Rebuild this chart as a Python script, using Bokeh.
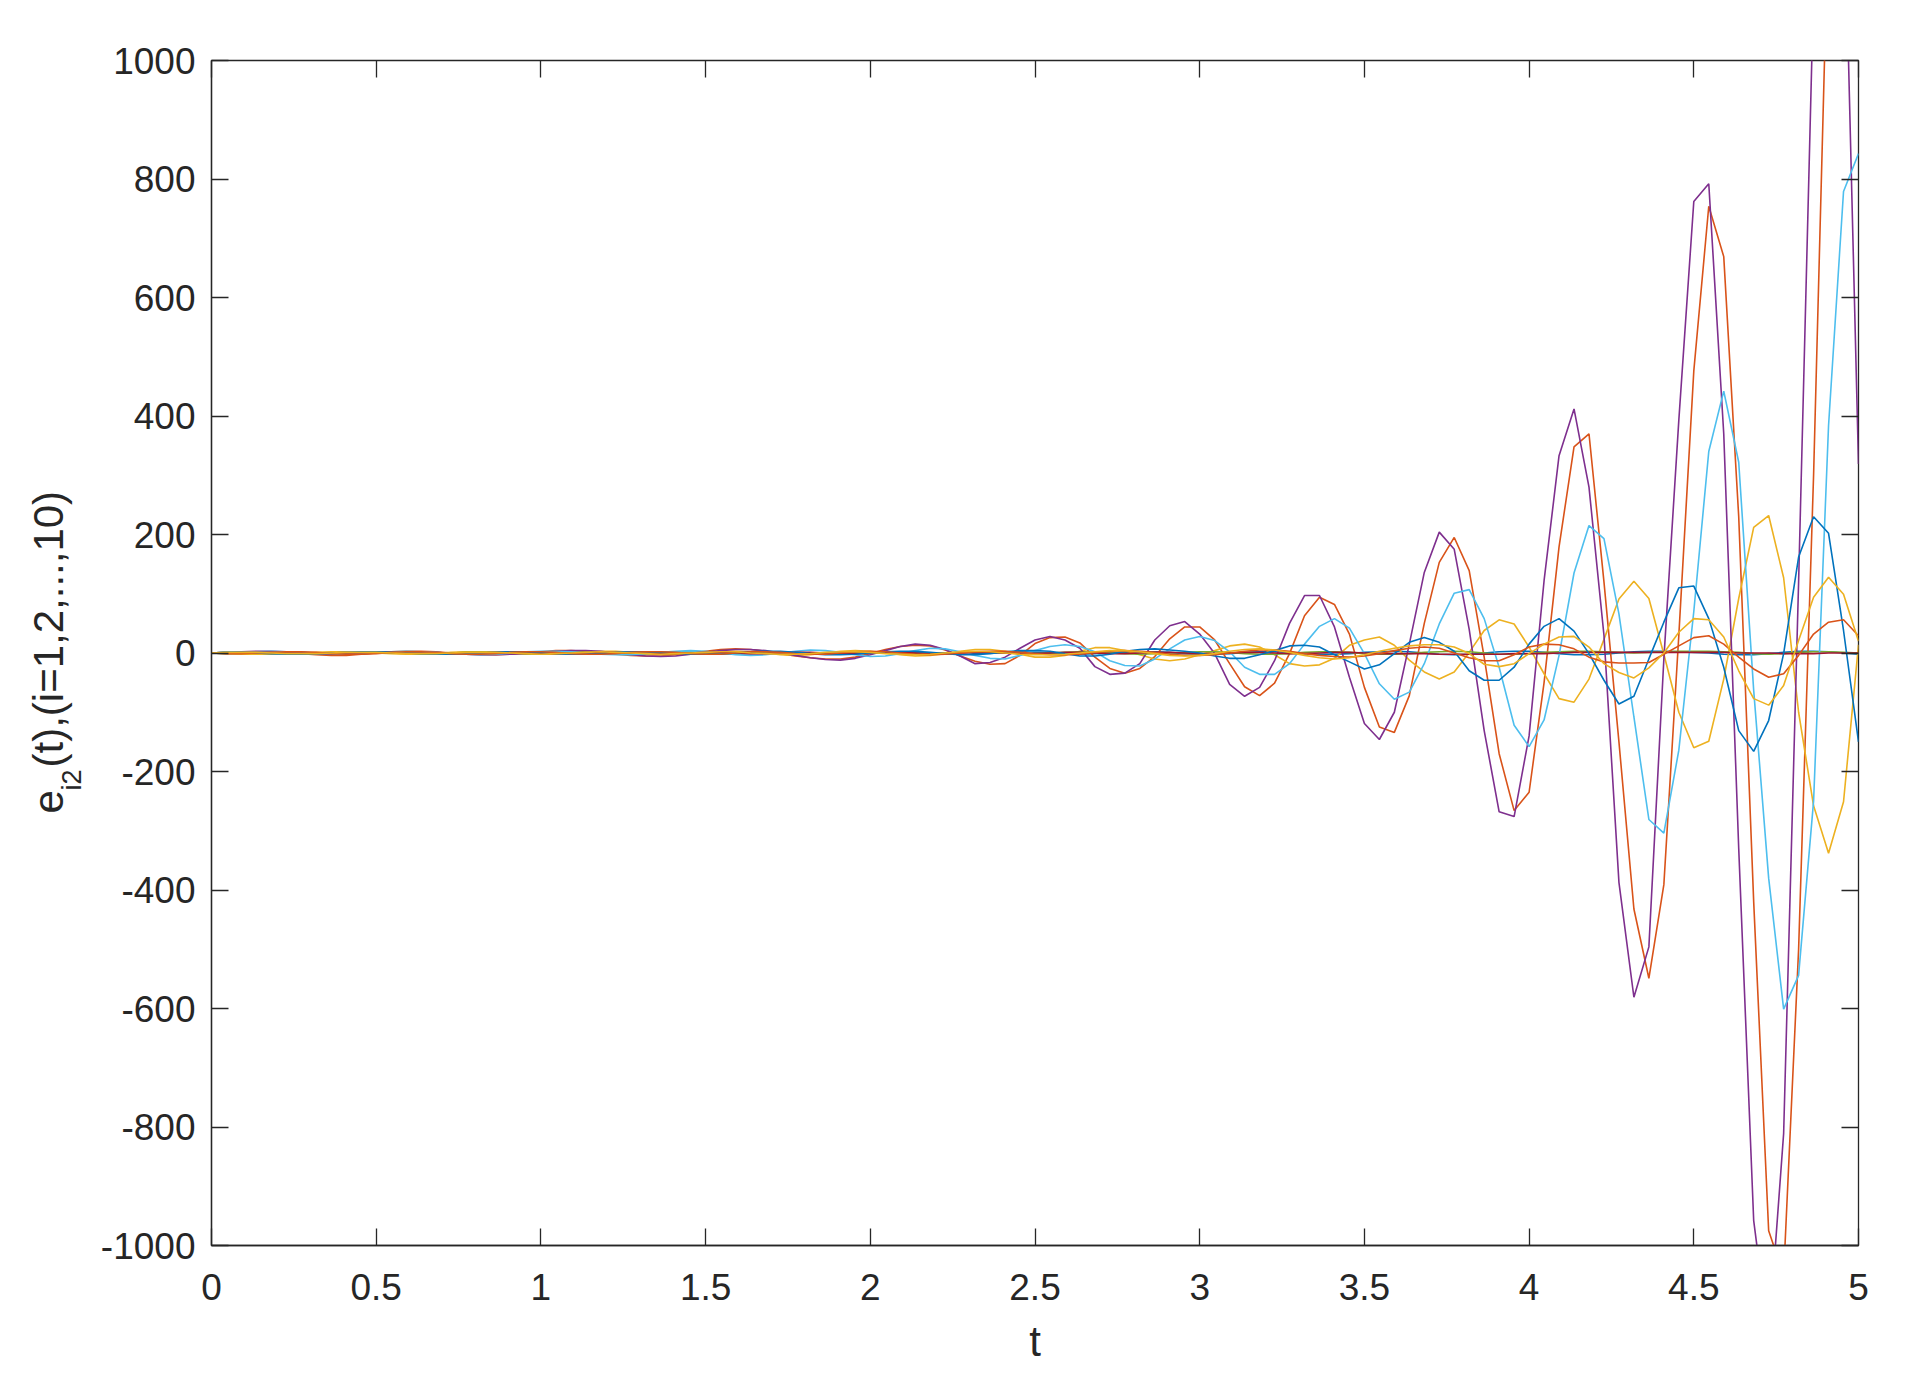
import math
from bokeh.plotting import figure
from bokeh.layouts import row
from bokeh.models import Range1d, FixedTicker, LinearAxis
from bokeh.core.properties import value
from bokeh.embed import file_html
from bokeh.resources import INLINE

# ---------------- data ----------------
t = [k * 5 / 110 for k in range(111)]

e1 = [0, -1, -1, 0, 1, 1, 1, 0, -1, -1,
      0, 1, 1, 0, -1, -1, -1, 0, 1, 1,
      1, 0, -1, -1, 0, 1, 1, 0, -1, -1,
      0, 1, 1, 1, 0, -1, -1, 0, 1, 1,
      0, -1, -1, -1, 0, 1, 2, 1, 0, -1,
      -2, -1, 0, 1, 2, 1, 0, -1, -2, -1,
      0, 1, 2, 2, 1, -1, -2, -2, -1, 1,
      2, 2, 1, -1, -2, -2, -1, 1, 2, 3,
      2, 0, -2, -3, -2, 0, 2, 3, 3, 1,
      -1, -3, -3, -2, 0, 2, 3, 3, 2, 1,
      0, -2, -3, -3, -1, 1, 3, 3, 2, 0, -2]

e2 = [0, 1, 2, 2, 2, 1, -1, -3, -4, -4,
      -2, 0, 2, 3, 3, 2, 0, -2, -3, -3,
      -2, 0, 2, 4, 4, 3, 1, -2, -4, -5,
      -5, -3, 0, 3, 6, 7, 6, 3, -1, -5,
      -8, -10, -10, -7, -1, 6, 11, 13, 12, 5,
      -5, -14, -19, -18, -4, 16, 26, 27, 17, -7,
      -26, -34, -26, -6, 24, 44, 44, 22, -18, -57,
      -72, -51, -1, 63, 94, 82, 32, -58, -125, -134,
      -72, 50, 153, 195, 139, -7, -170, -266, -235, -50,
      179, 348, 370, 120, -150, -432, -549, -391, 30, 476,
      754, 669, 230, -420, -975, -1050, -500, 300, 1260, 1800, 1600]

e3 = [0, -1, -2, -2, -2, -1, 0, 1, 2, 2,
      1, 0, -1, -2, -2, -1, 1, 2, 2, 1,
      0, -2, -2, -2, 0, 2, 3, 3, 1, -1,
      -3, -3, -2, 1, 3, 3, 2, 0, -3, -4,
      -3, 0, 3, 4, 3, 0, -3, -5, -4, -1,
      3, 6, 6, 3, -2, -7, -7, -4, 3, 9,
      9, 4, -3, -10, -13, -10, -3, 4, 12, 15,
      10, -3, -18, -22, -20, -9, 13, 22, 27, 13,
      -12, -32, -44, -32, 1, 38, 56, 49, 10, -35,
      -77, -83, -44, 23, 91, 121, 92, -2, -100, -160,
      -149, -44, 92, 212, 232, 127, -100, -258, -338, -251, 14]

e4 = [0, 1, 2, 3, 3, 2, 0, -1, -2, -2,
      -1, 0, 1, 2, 2, 1, -1, -2, -3, -3,
      -2, -1, 1, 3, 4, 4, 3, 0, -3, -5,
      -6, -5, -2, 1, 4, 6, 6, 4, 0, -4,
      -8, -11, -12, -9, -3, 4, 11, 15, 13, 6,
      -5, -18, -16, -7, 8, 22, 28, 22, 8, -23,
      -36, -34, -18, 22, 46, 53, 32, -1, -53, -73,
      -58, -13, 50, 97, 97, 44, -41, -119, -146, -100,
      15, 136, 204, 175, 40, -131, -268, -276, -140, 122,
      333, 412, 280, 30, -387, -581, -496, -10, 393, 762,
      792, 370, -330, -958, -1155, -811, 120, 1120, 1500, 1340, 319]

e5 = [0, 1, 1, 1, 0, 0, -1, -1, 0, 0,
      1, 1, 0, 0, -1, -1, 0, 1, 1, 1,
      0, -1, -1, 0, 1, 1, 1, 0, -1, -1,
      0, 1, 1, 0, -1, -1, 0, 1, 1, 0,
      -1, -1, 0, 1, 1, 1, 0, -1, -1, 0,
      1, 2, 1, 0, -1, -1, 0, 1, 2, 1,
      0, -1, -2, -1, 0, 1, 2, 2, 1, -1,
      -2, -2, -1, 1, 2, 2, 1, -1, -2, -2,
      -1, 1, 2, 3, 2, 0, -2, -2, -1, 1,
      2, 3, 3, 2, 1, 0, 1, 2, 3, 3,
      3, 2, 1, -1, -2, -1, 1, 2, 2, 1, 0]

e6 = [0, 1, 2, 2, 3, 2, 1, -1, -2, -2,
      -1, 0, 2, 3, 2, 1, -1, -2, -3, -2,
      0, 2, 3, 3, 2, 0, -2, -3, -3, -1,
      1, 3, 4, 3, 0, -3, -4, -3, 0, 3,
      5, 4, 1, -3, -6, -5, -1, 4, 8, 7,
      2, -4, -9, -10, -4, 4, 11, 14, 11, 2,
      -13, -21, -22, -10, 7, 22, 28, 21, 2, -24,
      -36, -36, -18, 15, 45, 58, 42, -1, -52, -78,
      -66, -18, 49, 101, 107, 58, -24, -122, -158, -113,
      -4, 135, 215, 193, 66, -108, -281, -304, -164, 70,
      340, 442, 322, -63, -380, -601, -544, -250, 384, 779, 843]

e7 = [0, 0, 1, 1, 1, 0, 0, -1, -1, 0,
      0, 1, 1, 0, 0, -1, -1, 0, 0, 1,
      1, 0, 0, -1, -1, 0, 1, 1, 0, 0,
      -1, -1, 0, 1, 1, 0, -1, -1, 0, 1,
      1, 0, -1, -1, 0, 1, 1, 0, -1, -1,
      0, 1, 1, 0, -1, -1, 0, 1, 1, 0,
      -1, -1, 0, 1, 1, 0, -1, -1, 0, 1,
      1, 0, -1, -1, 0, 1, 1, 0, -1, -1,
      -1, -1, -2, -2, -2, -2, -2, -1, -1, -1,
      0, 1, 1, 1, 1, 1, 1, 1, 1, 1,
      1, 1, 0, 0, 0, -1, -1, -1, 0, 0, 0]

e8 = [0, 1, 1, 0, -1, -2, -2, -1, 0, 1,
      2, 2, 1, 0, -1, -2, -2, -1, 0, 1,
      2, 2, 1, -1, -2, -2, -1, 1, 2, 2,
      1, 0, -2, -2, -2, 0, 2, 3, 3, 1,
      -1, -3, -3, -2, 0, 2, 3, 3, 1, -1,
      -3, -3, -1, 2, 4, 4, 3, -1, -5, -5,
      -2, 3, 6, 7, 5, 3, 0, -5, -9, -9,
      -3, 4, 12, 13, 10, -3, -15, -27, -20, -1,
      18, 26, 18, 3, -30, -46, -46, -24, 15, 45,
      58, 37, -1, -46, -86, -73, -10, 52, 110, 113,
      58, -24, -131, -166, -114, -1, 162, 230, 202, 38, -150]

e9 = [0, -1, -1, 0, 1, 2, 2, 1, -1, -2,
      -2, -1, 1, 2, 2, 1, -1, -2, -2, -1,
      1, 2, 2, 1, -1, -2, -2, -1, 1, 2,
      2, 1, -1, -2, -2, 0, 2, 2, 1, -1,
      -2, -2, 0, 2, 3, 2, 0, -2, -3, -2,
      0, 2, 3, 3, 1, -1, -3, -3, -2, 1,
      3, 4, 3, 1, -2, -4, -4, -3, 0, 3,
      5, 5, 3, -1, -4, -6, -7, -5, -1, 4,
      8, 10, 8, 0, -8, -13, -13, -3, 10, 15,
      14, 7, -7, -15, -17, -17, -16, -2, 12, 26,
      29, 15, -7, -27, -41, -35, -4, 32, 52, 56, 29]

e10 = [0, 1, 1, 1, 0, -1, -1, -1, 0, 1,
       1, 1, 0, -1, -1, -1, 0, 1, 1, 1,
       0, -1, -2, -1, 0, 1, 2, 1, 0, -1,
       -2, -1, 0, 1, 2, 2, 0, -1, -2, -2,
       -1, 1, 2, 2, 1, -1, -2, -3, -2, 0,
       2, 3, 2, 0, -2, -3, -3, -2, 0, 2,
       4, 4, 2, -1, -4, -5, -4, -1, 3, 6,
       7, 5, 1, -4, -8, -10, -8, -3, 3, 8,
       12, 14, 14, 10, -1, -19, -23, -18, -1, 15,
       27, 28, 10, -18, -33, -42, -25, 0, 35, 58,
       56, 27, -30, -77, -88, -55, 21, 94, 128, 99, 20]

series = [e1, e2, e3, e4, e5, e6, e7, e8, e9, e10]
colors = ["#0072BD", "#D95319", "#EDB120", "#7E2F8E", "#77AC30",
          "#4DBEEE", "#A2142F", "#0072BD", "#D95319", "#EDB120"]

x_ticks = [0, 0.5, 1, 1.5, 2, 2.5, 3, 3.5, 4, 4.5, 5]
x_tick_labels = ["0", "0.5", "1", "1.5", "2", "2.5", "3", "3.5", "4", "4.5", "5"]
y_ticks = [-1000, -800, -600, -400, -200, 0, 200, 400, 600, 800, 1000]
y_tick_labels = ["-1000", "-800", "-600", "-400", "-200", "0", "200", "400", "600", "800", "1000"]

ylabel_parts = ["e", "i2", "(t),(i=1,2,...,10)"]

# ---------------- layout constants (page pixels) ----------------
FRAME_L, FRAME_R, FRAME_T, FRAME_B = 211, 1858, 60, 1245
BORDER_R, BORDER_B = 39, 125
LEFT_W = 94                       # width of the strip that carries the y label
TOTAL_H = FRAME_B + BORDER_B
FONT = "Liberation Sans"
AX = "#262626"
TICK_FS, LABEL_FS, SUB_FS = 37, 42, 27

p = figure(frame_width=FRAME_R - FRAME_L, frame_height=FRAME_B - FRAME_T,
           x_range=Range1d(0, 5), y_range=Range1d(-1000, 1000),
           output_backend="svg", toolbar_location=None,
           min_border_left=FRAME_L - LEFT_W, min_border_top=FRAME_T,
           min_border_right=BORDER_R, min_border_bottom=BORDER_B,
           background_fill_color="white", border_fill_color="white")
p.xgrid.visible = False
p.ygrid.visible = False
p.outline_line_color = AX
p.outline_line_width = 1.3


def style_axis(ax, ticks, labels):
    ax.ticker = FixedTicker(ticks=ticks, minor_ticks=[])
    ax.major_label_overrides = {tk: lb for tk, lb in zip(ticks, labels)}
    ax.axis_line_color = AX
    ax.axis_line_width = 1.3
    ax.major_tick_line_color = AX
    ax.major_tick_line_width = 1.3
    ax.major_tick_in = 17
    ax.major_tick_out = 0
    ax.minor_tick_line_color = None
    ax.major_label_text_font = FONT
    ax.major_label_text_font_size = f"{TICK_FS}px"
    ax.major_label_text_color = AX


style_axis(p.xaxis[0], x_ticks, x_tick_labels)
style_axis(p.yaxis[0], y_ticks, y_tick_labels)
p.xaxis.major_label_standoff = 28
p.yaxis.major_label_standoff = 16
p.xaxis.axis_label = "t"
p.xaxis.axis_label_text_font = FONT
p.xaxis.axis_label_text_font_size = f"{LABEL_FS}px"
p.xaxis.axis_label_text_font_style = "normal"
p.xaxis.axis_label_text_color = AX
p.xaxis.axis_label_standoff = 15

top = LinearAxis()
right = LinearAxis()
style_axis(top, x_ticks, [""] * len(x_ticks))
style_axis(right, y_ticks, [""] * len(y_ticks))
for ax in (top, right):
    ax.axis_line_color = None
    ax.major_label_standoff = 0
p.add_layout(top, "above")
p.add_layout(right, "right")

for ys, c in zip(series, colors):
    p.line(t, ys, line_color=c, line_width=1.6)

# ---------------- y-axis label strip: e_{i2}(t),(i=1,2,...,10) ----------------
lf = figure(width=LEFT_W, height=TOTAL_H,
            x_range=Range1d(0, LEFT_W), y_range=Range1d(TOTAL_H - FRAME_B, TOTAL_H - FRAME_T),
            output_backend="svg", toolbar_location=None,
            min_border_left=0, min_border_right=0,
            min_border_top=FRAME_T, min_border_bottom=BORDER_B,
            x_axis_type=None, y_axis_type=None, outline_line_color=None,
            background_fill_color="white", border_fill_color="white")
lf.grid.visible = False

# anchor x (page px) and starting y (page px, bottom of rotated text) of each part
part_anchor_x = [47.5, 71.5, 47.5]
part_start_y = [813, 790, 767]
part_size = [LABEL_FS, SUB_FS, LABEL_FS]
for txt, bx, by, fs in zip(ylabel_parts, part_anchor_x, part_start_y, part_size):
    lf.text(x=[bx], y=[TOTAL_H - by], text=[txt], angle=math.pi / 2,
            text_font=value(FONT), text_font_size=value(f"{fs}px"), text_color=AX,
            text_align="left", text_baseline="alphabetic")

layout = row(lf, p, spacing=0)
open("out.html", "w").write(file_html(layout, INLINE))
